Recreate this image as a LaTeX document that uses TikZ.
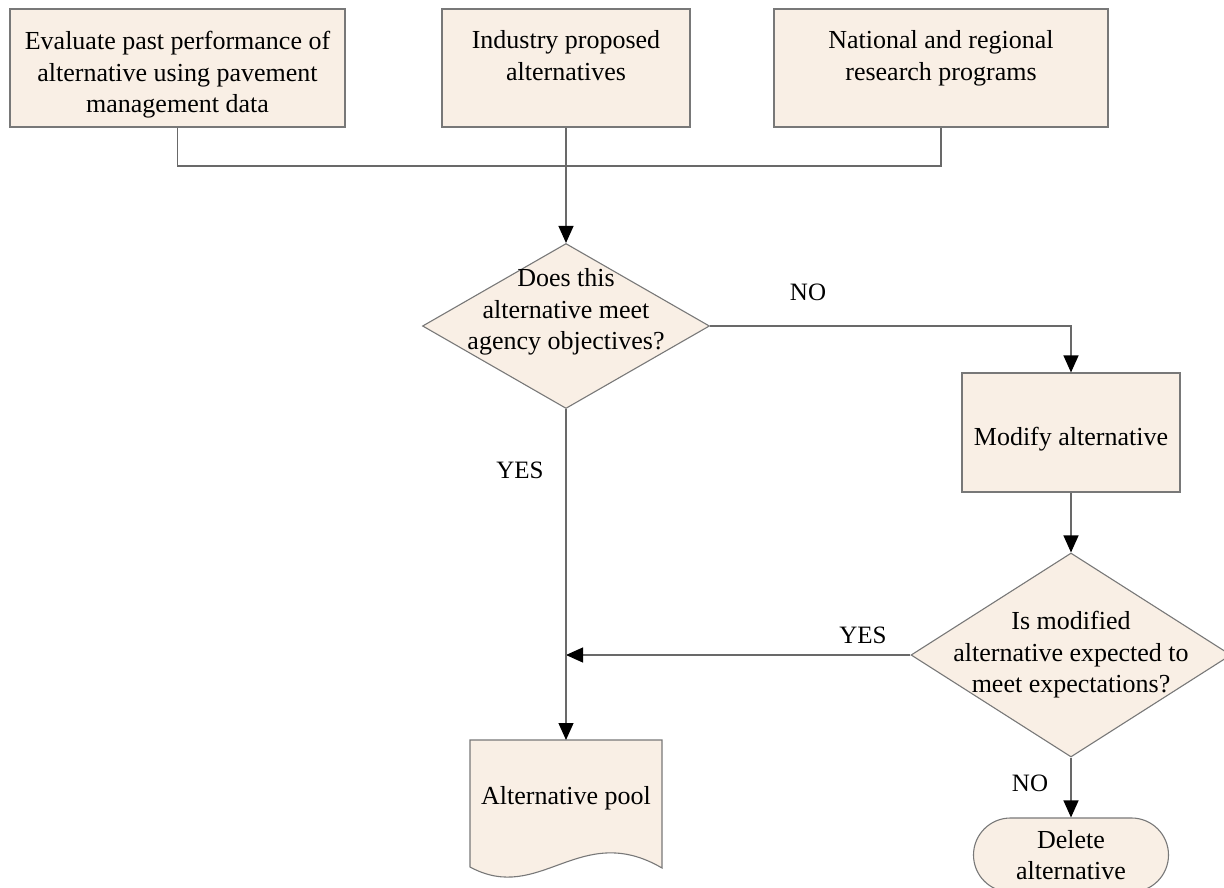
\documentclass[tikz,border=0pt]{standalone}
\usepackage{fontspec}
\setmainfont{Liberation Serif}
\usetikzlibrary{shapes.geometric,arrows.meta}
\definecolor{boxfill}{RGB}{249,239,229}
\definecolor{edgegray}{RGB}{120,120,120}
\definecolor{linegray}{RGB}{105,105,105}
\begin{document}
\begin{tikzpicture}[x=1pt,y=-1pt,
  every node/.style={font=\fontsize{26}{31.5}\selectfont, text=black},
  procbox/.style={draw=edgegray, fill=boxfill, line width=1.1pt, inner sep=0pt},
  boxtext/.style={align=center, yshift=-7pt},
  decision/.style={diamond, draw=edgegray, fill=boxfill, line width=1.1pt, inner sep=0pt},
  terminal/.style={draw=edgegray, fill=boxfill, line width=1.1pt, rounded corners=37pt, align=center, inner sep=0pt},
  flow/.style={draw=linegray, line width=1.2pt},
  arr/.style={flow, -{Triangle[length=17pt,width=15pt,color=black]}},
  lbl/.style={font=\fontsize{25}{30}\selectfont}]
\useasboundingbox (0,0) rectangle (1224,888);

% source boxes
\node[procbox, minimum width=335pt, minimum height=118pt] (b1) at (177.5,68) {};
\node[boxtext] (b1t) at (b1) {Evaluate past performance of\\alternative using pavement\\management data};
\node[procbox, minimum width=248pt, minimum height=118pt] (b2) at (566,68) {};
\node[boxtext, anchor=north] (b2t) at (566,20) {Industry proposed\\alternatives};
\node[procbox, minimum width=334pt, minimum height=118pt] (b3) at (941,68) {};
\node[boxtext, anchor=north] (b3t) at (941,20) {National and regional\\research programs};

% first decision
\node[decision, minimum width=287pt, minimum height=165pt] (d1) at (566,326) {};
\node[align=center] (d1t) at (566,312) {Does this\\alternative meet\\agency objectives?};

% modify step
\node[procbox, minimum width=218pt, minimum height=119pt] (mod) at (1071,432.5) {};
\node[boxtext] (modt) at (mod) {Modify alternative};

% second decision
\node[decision, minimum width=320pt, minimum height=204pt] (d2) at (1071,655) {};
\node[align=center] (d2t) at (1071,655) {Is modified\\alternative expected to\\meet expectations?};

% alternative pool (document shape)
\coordinate (pool) at (566,740);
\path[fill=boxfill, draw=edgegray, line width=1.1pt]
  (470,740) -- (662,740) -- (662,868)
  .. controls (580,820) and (540,905) .. (470,867) -- cycle;
\node (poolt) at (566,798) {Alternative pool};

% delete terminal
\node[terminal, minimum width=195pt, minimum height=74pt] (del) at (1071,855) {Delete\\alternative};

% connectors
\coordinate (jn) at (566,166);
\coordinate (merge) at (566,655);
\draw[flow] (b1.south) |- (jn) -| (b3.south);
\draw[arr] (b2.south) -- (d1.north);
\draw[arr] (d1.east) -| (mod.north);
\draw[arr] (mod.south) -- (d2.north);
\draw[arr] (d2.west) -- (merge);
\draw[arr] (d1.south) -- (pool);
\draw[arr] (d2.south) -- (del.north);

% branch labels
\node[lbl] (no1) at (808,292) {NO};
\node[lbl] (yes1) at (520,470) {YES};
\node[lbl] (yes2) at (863,635) {YES};
\node[lbl] (no2) at (1030,783) {NO};
\end{tikzpicture}
\end{document}
